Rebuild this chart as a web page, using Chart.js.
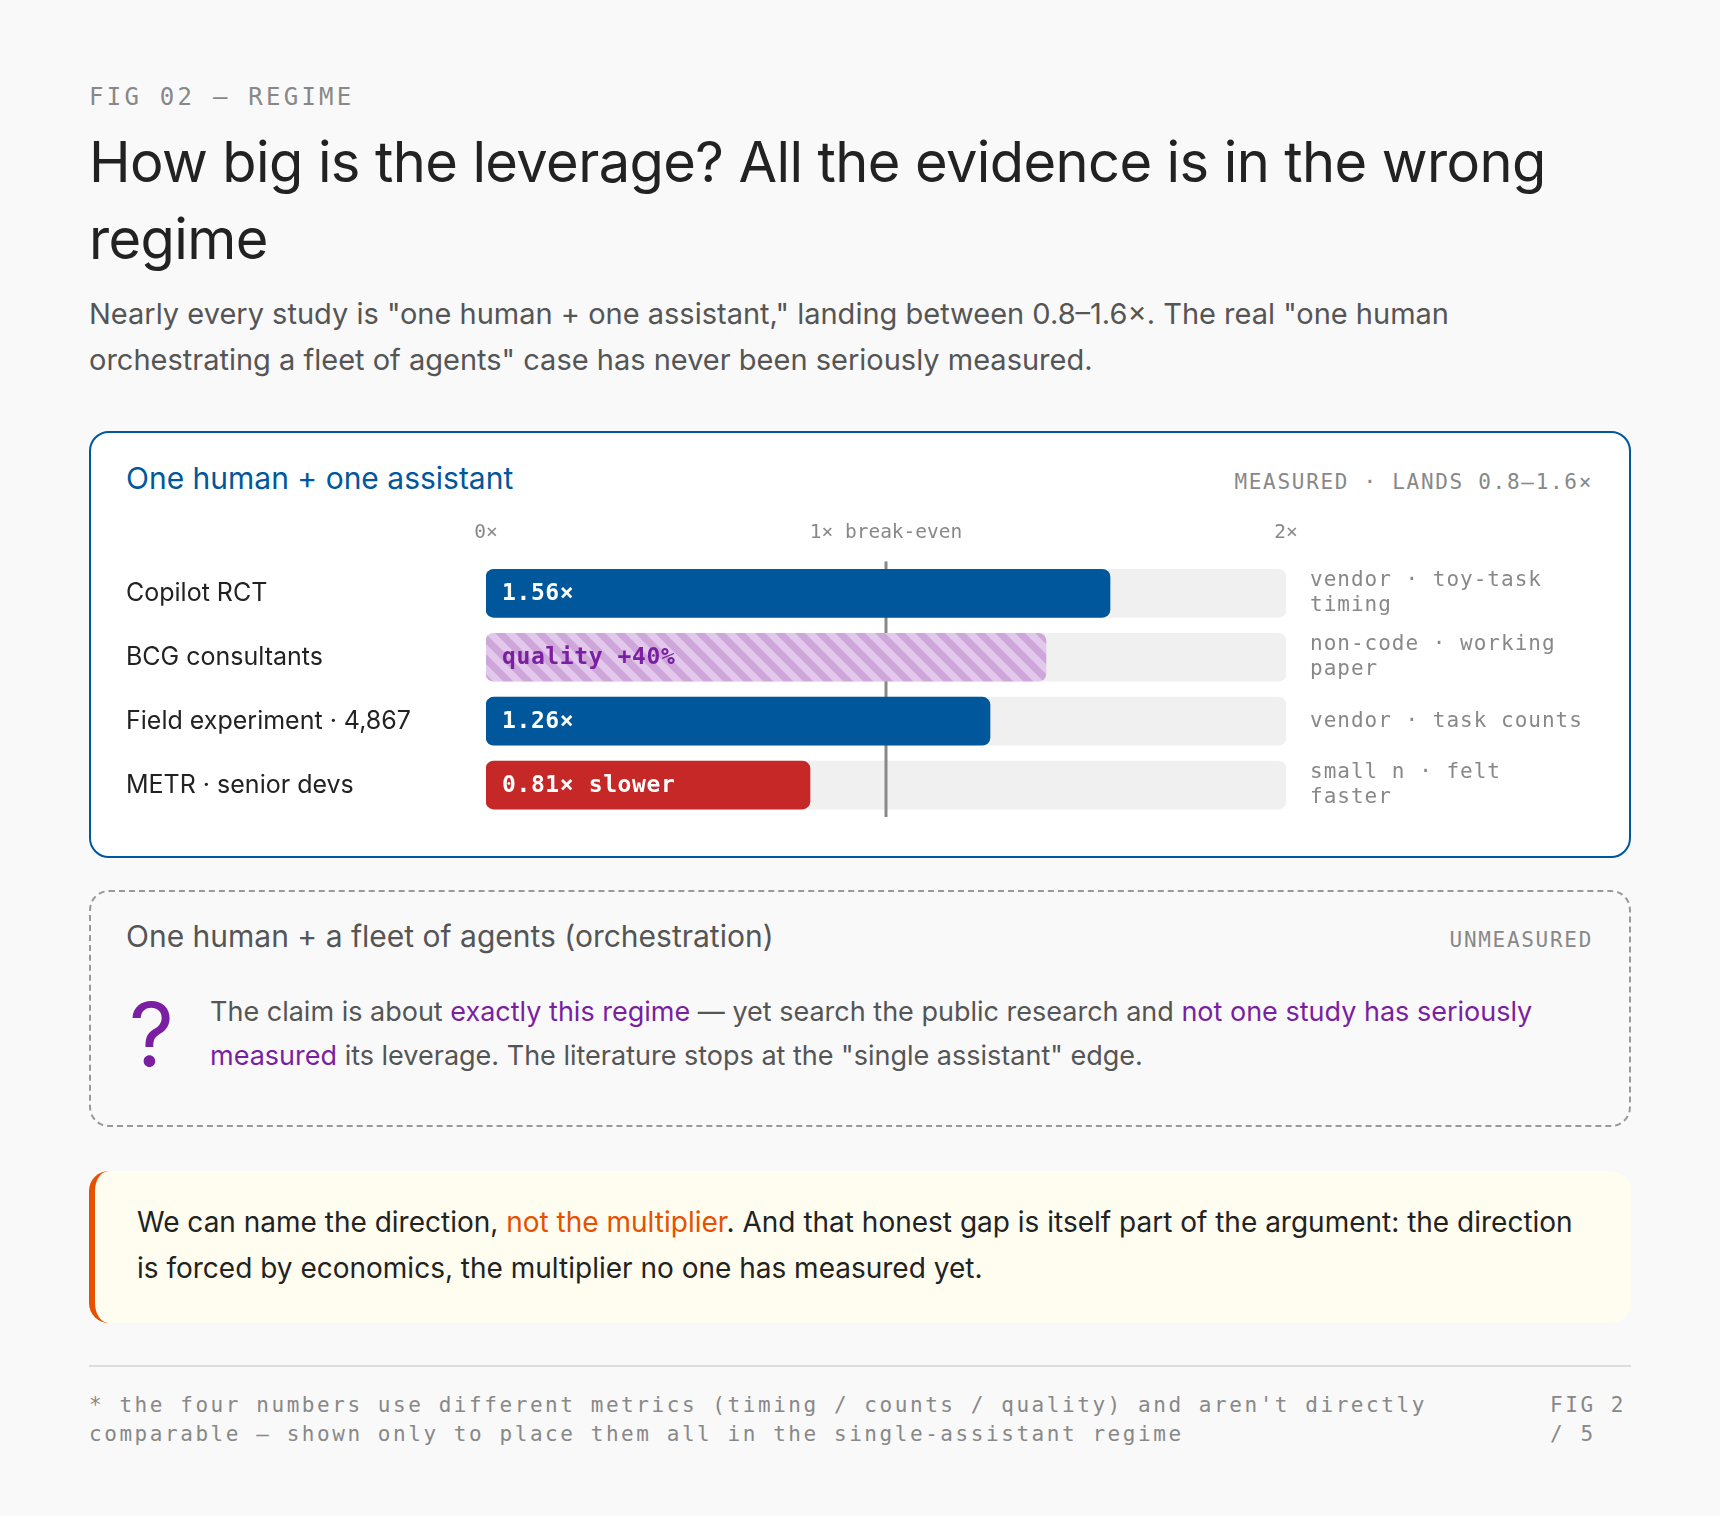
<!DOCTYPE html>
<html>
<head>
<meta charset="utf-8">
<script src="https://cdn.jsdelivr.net/npm/chart.js@4.4.1/dist/chart.umd.min.js"></script>
<style>
  html, body { margin: 0; background: #f9f9f9; }
  body { font-family: Inter, "Liberation Sans", Arial, sans-serif; color: #222; }
  .page { width: 1542px; margin: 0 auto; padding: 82px 0 60px; }
  .mono { font-family: "DejaVu Sans Mono", monospace; }
  .kicker { font-size: 24px; line-height: 30px; letter-spacing: 3.25px; color: #888; }
  h1 { font-weight: 400; font-size: 56px; line-height: 77px; letter-spacing: -0.6px; margin: 12px 0 0; color: #222; }
  .sub { font-size: 29px; line-height: 46px; color: #555; margin: 13px 0 0; }
  .card { margin-top: 48px; background: #fff; border: 2px solid #01579b; border-radius: 20px; padding: 27px 36px 21px 35px; }
  .head { display: flex; justify-content: space-between; align-items: baseline; height: 36px; line-height: 36px; }
  .head .t { font-size: 30px; color: #01579b; }
  .tag { font-size: 21px; letter-spacing: 1.7px; color: #888; }
  .chartbox { position: relative; width: 1467px; height: 331px; margin-top: 8px; }
  .card2 { margin-top: 32px; border: 2px dashed #999; border-radius: 20px; padding: 26px 36px 47px 35px; }
  .card2 .head .t { color: #555; }
  .body2 { display: flex; align-items: center; gap: 21px; margin-top: 36px; }
  .qmark { flex: none; width: 60px; padding-left: 3px; font-size: 88px; line-height: 1; color: #7b1fa2; }
  .body2 p { margin: 0; font-size: 27px; line-height: 44px; color: #555; }
  .hl { color: #7b1fa2; }
  .callout { margin-top: 44px; background: #fffdf0; border-left: 6px solid #e65100; border-radius: 20px; padding: 28px 42px 32px 42px; font-size: 28px; line-height: 46px; color: #222; }
  .callout .or { color: #e65100; }
  hr { margin: 42px 0 0; border: 0; height: 2px; background: #ddd; }
  .foot { display: flex; margin-top: 24px; font-size: 21px; line-height: 29px; letter-spacing: 2.56px; color: #888; }
  .foot .note { width: 1440px; }
  .foot .num { margin-left: auto; width: 81px; }
</style>
</head>
<body>
<div class="page">
  <div class="kicker mono">FIG 02 — REGIME</div>
  <h1>How big is the leverage? All the evidence is in the wrong regime</h1>
  <p class="sub">Nearly every study is "one human + one assistant," landing between 0.8–1.6×. The real "one human orchestrating a fleet of agents" case has never been seriously measured.</p>

  <div class="card">
    <div class="head">
      <div class="t">One human + one assistant</div>
      <div class="tag mono">MEASURED · LANDS 0.8–1.6×</div>
    </div>
    <div class="chartbox"><canvas id="chart"></canvas></div>
  </div>

  <div class="card2">
    <div class="head">
      <div class="t">One human + a fleet of agents (orchestration)</div>
      <div class="tag mono">UNMEASURED</div>
    </div>
    <div class="body2">
      <div class="qmark">?</div>
      <p>The claim is about <span class="hl">exactly this regime</span> — yet search the public research and <span class="hl">not one study has seriously measured</span> its leverage. The literature stops at the "single assistant" edge.</p>
    </div>
  </div>

  <div class="callout">We can name the direction, <span class="or">not the multiplier</span>. And that honest gap is itself part of the argument: the direction is forced by economics, the multiplier no one has measured yet.</div>

  <hr>
  <div class="foot mono">
    <div class="note">* the four numbers use different metrics (timing / counts / quality) and aren't directly comparable — shown only to place them all in the single-assistant regime</div>
    <div class="num">FIG 2 / 5</div>
  </div>
</div>

<script>
// data
const categories = ["Copilot RCT", "BCG consultants", "Field experiment · 4,867", "METR · senior devs"];
const values = [1.56, 1.40, 1.26, 0.81];
const valueLabels = ["1.56×", "quality +40%", "1.26×", "0.81× slower"];
const notes = [
  ["vendor · toy-task", "timing"],
  ["non-code · working", "paper"],
  ["vendor · task counts"],
  ["small n · felt", "faster"]
];
const trackValues = [2, 2, 2, 2];
const tickLabels = ["0×", "1× break-even", "2×"];
const axisMin = 0;
const axisMax = 2;
const breakEven = 1;

const BLUE = "#01579b";
const RED = "#c62828";
const MONO = "'DejaVu Sans Mono', monospace";
const SANS = "Inter, 'Liberation Sans', Arial, sans-serif";

const canvas = document.getElementById("chart");
const ctx = canvas.getContext("2d");

function makeHatch() {
    const tile = document.createElement("canvas");
    tile.width = 20;
    tile.height = 20;
    const g = tile.getContext("2d");
    g.fillStyle = "#e2c9eb";
    g.fillRect(0, 0, 20, 20);
    g.fillStyle = "#cea6d9";
    for (let k = -1; k <= 1; k++) {
        g.beginPath();
        g.moveTo(k * 20, 0);
        g.lineTo(k * 20 + 10, 0);
        g.lineTo(k * 20 + 30, 20);
        g.lineTo(k * 20 + 20, 20);
        g.closePath();
        g.fill();
    }
    return ctx.createPattern(tile, "repeat");
}

const barColors = [BLUE, makeHatch(), BLUE, RED];
const labelColors = ["#fff", "#7b1fa2", "#fff", "#fff"];

// break-even line sits on top of the track but under the bars
const breakEvenLine = {
    id: "breakEvenLine",
    afterDatasetDraw(chart, args) {
        if (args.index !== 1) return;
        const { ctx, chartArea, scales } = chart;
        const x = scales.x.getPixelForValue(breakEven);
        ctx.save();
        ctx.strokeStyle = "#888";
        ctx.lineWidth = 3;
        ctx.beginPath();
        ctx.moveTo(x, chartArea.top);
        ctx.lineTo(x, chartArea.bottom);
        ctx.stroke();
        ctx.restore();
    }
};

const barText = {
    id: "barText",
    afterDatasetsDraw(chart) {
        const { ctx, chartArea } = chart;
        const bars = chart.getDatasetMeta(0).data;
        ctx.save();
        ctx.textBaseline = "middle";
        ctx.textAlign = "left";
        bars.forEach((bar, i) => {
            ctx.font = "bold 23px " + MONO;
            ctx.letterSpacing = "0.6px";
            ctx.fillStyle = labelColors[i];
            ctx.fillText(valueLabels[i], bar.base + 16, bar.y + 1);

            ctx.font = "21px " + MONO;
            ctx.letterSpacing = "1px";
            ctx.fillStyle = "#888";
            const lines = notes[i];
            lines.forEach((line, j) => {
                ctx.fillText(line, chartArea.right + 24, bar.y + (j - (lines.length - 1) / 2) * 25);
            });
        });
        ctx.restore();
    }
};

new Chart(ctx, {
    type: "bar",
    data: {
        labels: categories,
        datasets: [
            {
                data: values,
                backgroundColor: barColors,
                borderRadius: 8,
                borderSkipped: false,
                barThickness: 48,
                grouped: false,
                order: 0
            },
            {
                data: trackValues,
                backgroundColor: "#f0f0f0",
                borderRadius: 8,
                borderSkipped: false,
                barThickness: 48,
                grouped: false,
                order: 1
            }
        ]
    },
    options: {
        indexAxis: "y",
        responsive: true,
        maintainAspectRatio: false,
        animation: false,
        events: [],
        layout: { padding: { top: 0, right: 307, bottom: 0, left: 0 } },
        plugins: {
            legend: { display: false },
            tooltip: { enabled: false }
        },
        scales: {
            x: {
                position: "top",
                min: axisMin,
                max: axisMax,
                grid: { display: false, drawTicks: false },
                border: { display: false },
                ticks: {
                    stepSize: 1,
                    padding: 17,
                    color: "#888",
                    font: { family: MONO, size: 19.5 },
                    callback: (value, i) => tickLabels[i]
                }
            },
            y: {
                grid: { display: false, drawTicks: false },
                border: { display: false },
                ticks: {
                    crossAlign: "far",
                    color: "#222",
                    font: { family: SANS, size: 25 }
                },
                afterFit(scale) {
                    scale.width = 360;
                }
            }
        }
    },
    plugins: [breakEvenLine, barText]
});
</script>
</body>
</html>
